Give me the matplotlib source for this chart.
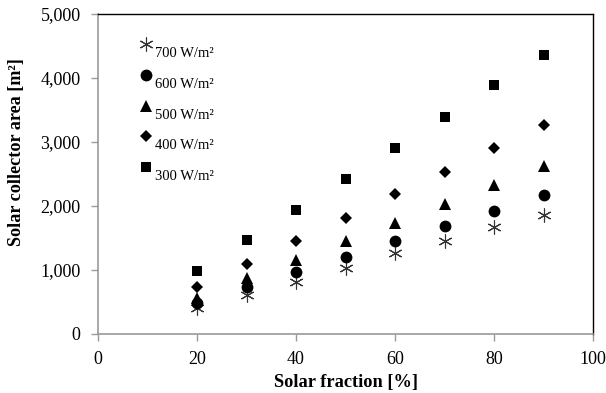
import matplotlib
matplotlib.use("Agg")
import matplotlib.pyplot as plt
from matplotlib.ticker import FuncFormatter

plt.rcParams['font.family'] = ['Liberation Serif', 'DejaVu Serif']

solar_fraction = [20, 30, 40, 50, 60, 70, 80, 90]
area_700 = [400, 610, 820, 1030, 1265, 1458, 1666, 1865]
area_600 = [481, 732, 961, 1207, 1447, 1682, 1923, 2174]
area_500 = [559, 873, 1155, 1458, 1740, 2038, 2325, 2618]
area_400 = [742, 1097, 1453, 1818, 2184, 2539, 2905, 3265]
area_300 = [987, 1468, 1938, 2429, 2910, 3396, 3887, 4362]
labels = ['700 W/m²', '600 W/m²', '500 W/m²', '400 W/m²', '300 W/m²']

fig = plt.figure(figsize=(6.06, 3.93), dpi=100)
ax = fig.add_axes([98/606, 1-334/393, (593-98)/606, (334-14)/393])

series = [area_700, area_600, area_500, area_400, area_300]
markers = [(6, 2, 0), 'o', '^', 'D', 's']
sizes = [10, 8.5, 8.5, 6, 7.5]
for vals, m, s, lab in zip(series, markers, sizes, labels):
    if m == (6, 2, 0):
        ax.plot(solar_fraction, vals, linestyle='none', marker=m, markersize=s,
                markeredgecolor='#333333', markeredgewidth=0.8, label=lab)
    else:
        ax.plot(solar_fraction, vals, linestyle='none', marker=m, markersize=s,
                color='black', markeredgewidth=0, label=lab)

ax.set_xlim(0, 100)
ax.set_ylim(0, 5000)
ax.set_xticks([0, 20, 40, 60, 80, 100])
ax.set_yticks([0, 1000, 2000, 3000, 4000, 5000])
ax.yaxis.set_major_formatter(FuncFormatter(lambda v, p: f'{int(v):,}'))
ax.tick_params(axis='both', direction='out', length=5, width=1, color='#999999',
               labelsize=13, labelcolor='black')
ax.tick_params(axis='x', pad=7)
ax.tick_params(axis='y', pad=7.5)
for side in ['left', 'bottom']:
    ax.spines[side].set_color('#999999')
    ax.spines[side].set_linewidth(1.2)
for side in ['top', 'right']:
    ax.spines[side].set_color('black')
    ax.spines[side].set_linewidth(1.0)

ax.set_xlabel('Solar fraction [%]', fontsize=13.2, fontweight='bold')
ax.xaxis.set_label_coords(0.5, -(382 - 334) / 320, transform=ax.transAxes)
ax.xaxis.label.set_va('center')
ax.set_ylabel('Solar collector area [m²]', fontsize=13.1, fontweight='bold')
ax.yaxis.set_label_coords((17 - 98) / 495, (334 - 152.5) / 320, transform=ax.transAxes)
ax.yaxis.label.set_va('center')

leg = ax.legend(loc='upper left', bbox_to_anchor=((139 - 98) / 495, (334 - 39) / 320),
                frameon=False, fontsize=10.5, handletextpad=0.1, labelspacing=1.2,
                handlelength=1.0, borderaxespad=0, borderpad=0)
for t in leg.get_texts():
    t.set_position((0, -8))

fig.savefig('out.png', dpi=100)
